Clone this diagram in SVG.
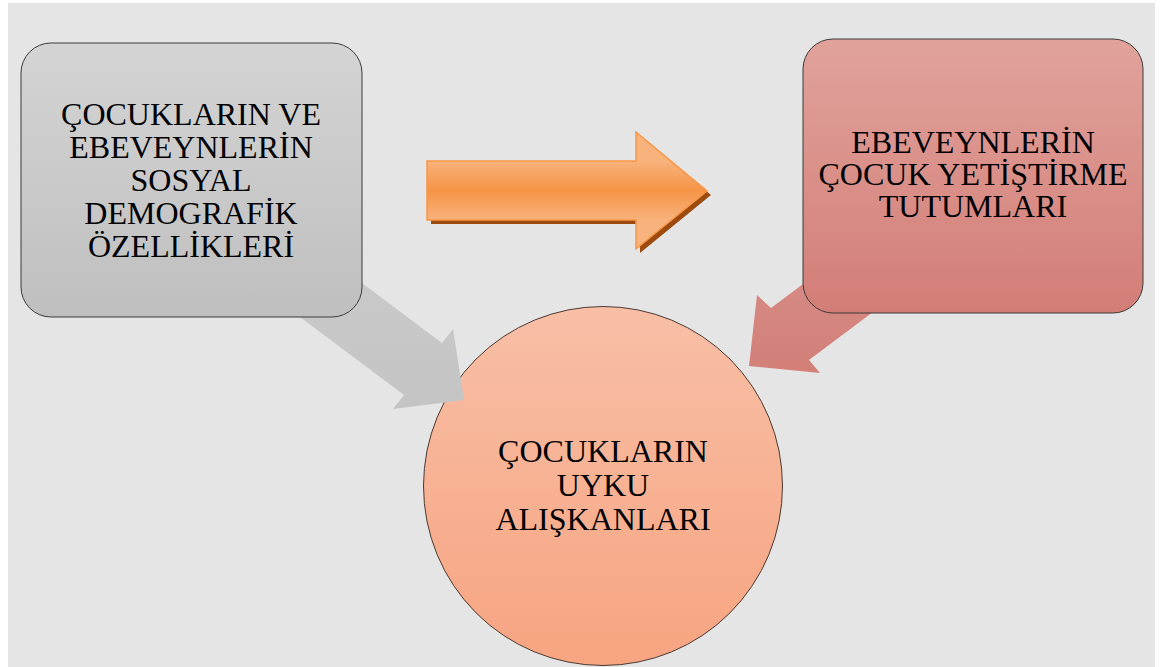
<svg xmlns="http://www.w3.org/2000/svg" width="1168" height="667" viewBox="0 0 1168 667">
  <defs>
    <linearGradient id="gGray" x1="0" y1="0" x2="0" y2="1">
      <stop offset="0" stop-color="#d4d4d4"/>
      <stop offset="1" stop-color="#bfbfbf"/>
    </linearGradient>
    <linearGradient id="gPink" x1="0" y1="0" x2="0" y2="1">
      <stop offset="0" stop-color="#e1a29c"/>
      <stop offset="1" stop-color="#d27e76"/>
    </linearGradient>
    <linearGradient id="gCircle" x1="0" y1="0" x2="0" y2="1">
      <stop offset="0" stop-color="#f8bfa6"/>
      <stop offset="1" stop-color="#f7a481"/>
    </linearGradient>
    <linearGradient id="gOrange" x1="0" y1="0" x2="0" y2="1">
      <stop offset="0" stop-color="#fac196"/>
      <stop offset="0.5" stop-color="#f69446"/>
      <stop offset="1" stop-color="#fac196"/>
    </linearGradient>
    <linearGradient id="gOrangeShaft" gradientUnits="userSpaceOnUse" x1="0" y1="161" x2="0" y2="220">
      <stop offset="0" stop-color="#f8b27c"/>
      <stop offset="0.5" stop-color="#f69446"/>
      <stop offset="1" stop-color="#f8b27c"/>
    </linearGradient>
    <linearGradient id="gArrowGray" gradientUnits="userSpaceOnUse" x1="0" y1="223" x2="0" y2="409">
      <stop offset="0" stop-color="#cbcbcb"/>
      <stop offset="1" stop-color="#c4c4c4"/>
    </linearGradient>
    <linearGradient id="gArrowPink" gradientUnits="userSpaceOnUse" x1="0" y1="188" x2="0" y2="374">
      <stop offset="0" stop-color="#d99690"/>
      <stop offset="1" stop-color="#d27f77"/>
    </linearGradient>
    <style>
      .lbl { font-family: "Liberation Serif", "Times New Roman", serif; font-size: 32px; fill: #000; text-anchor: middle; }
      .box { stroke: #3a3a3a; stroke-width: 1; }
    </style>
  </defs>

  <rect x="8" y="3" width="1147" height="664" fill="#e5e5e5"/>

  <g id="node-circle">
    <circle cx="603" cy="486" r="179.5" fill="url(#gCircle)" stroke="#4a3a33" stroke-width="1"/>
    <text class="lbl" x="603" y="462">ÇOCUKLARIN</text>
    <text class="lbl" x="603" y="496">UYKU</text>
    <text class="lbl" x="603" y="530">ALIŞKANLARI</text>
  </g>

  <g id="connectors">
    <polygon points="282,223 442,343 453,329 464,400 393,409 404,395 244,275" fill="url(#gArrowGray)"/>
    <polygon points="931,188 771,308 757,295 749,366 820,373 809,360 969,240" fill="url(#gArrowPink)"/>
    <g id="orange-arrow">
      <polygon points="431,165 640,165 640,136 711,195 640,253 640,224 431,224" fill="#9c4a0e"/>
      <polygon points="427,161 636,161 636,132 707,191 636,249 636,220 427,220" fill="url(#gOrangeShaft)" stroke="#f79646" stroke-width="1.5" stroke-linejoin="miter"/>
    </g>
  </g>

  <g id="node-left">
    <rect class="box" x="21" y="43" width="341" height="274" rx="30" ry="30" fill="url(#gGray)"/>
    <text class="lbl" x="191" y="125">ÇOCUKLARIN VE</text>
    <text class="lbl" x="191" y="158">EBEVEYNLERİN</text>
    <text class="lbl" x="191" y="191">SOSYAL</text>
    <text class="lbl" x="191" y="224">DEMOGRAFİK</text>
    <text class="lbl" x="191" y="257">ÖZELLİKLERİ</text>
  </g>

  <g id="node-right">
    <rect class="box" x="803" y="39" width="340" height="274" rx="30" ry="30" fill="url(#gPink)" stroke="#4a2a28"/>
    <text class="lbl" x="973" y="153">EBEVEYNLERİN</text>
    <text class="lbl" x="973" y="185">ÇOCUK YETİŞTİRME</text>
    <text class="lbl" x="973" y="217">TUTUMLARI</text>
  </g>
</svg>
